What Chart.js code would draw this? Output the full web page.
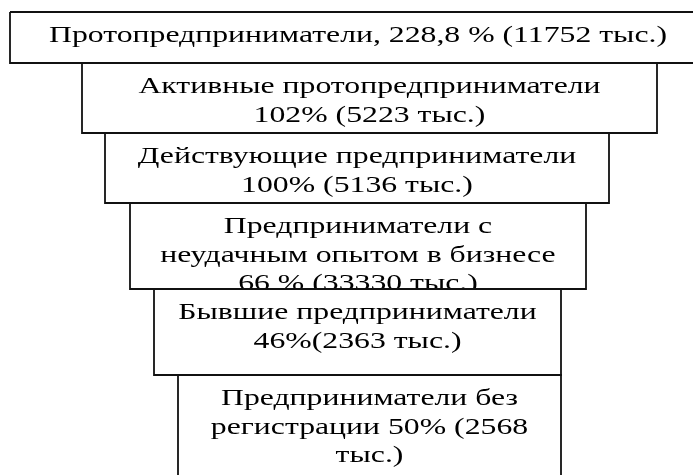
<!DOCTYPE html>
<html>
<head>
<meta charset="utf-8">
<script src="https://cdn.jsdelivr.net/npm/chart.js@4.4.1/dist/chart.umd.min.js"></script>
<style>
  html, body { margin: 0; padding: 0; background: #fff; }
  #wrap { width: 693px; height: 475px; position: relative; }
</style>
</head>
<body>
<div id="wrap"><canvas id="funnel"></canvas></div>
<script>
// stages of the funnel, top to bottom
const categories = [
  "Протопредприниматели",
  "Активные протопредприниматели",
  "Действующие предприниматели",
  "Предприниматели с неудачным опытом в бизнесе",
  "Бывшие предприниматели",
  "Предприниматели без регистрации",
];
// text as it is broken into lines in the boxes
const labelLines = [
  ["Протопредприниматели, 228,8 % (11752 тыс.)"],
  ["Активные протопредприниматели", "102% (5223 тыс.)"],
  ["Действующие предприниматели", "100% (5136 тыс.)"],
  ["Предприниматели с", "неудачным опытом в бизнесе", "66 % (33330 тыс.)"],
  ["Бывшие предприниматели", "46%(2363 тыс.)"],
  ["Предприниматели без", "регистрации 50% (2568", "тыс.)"],
];
// box extents in axis units
const boxStart = [10, 82, 105, 130, 154, 178];
const boxEnd = [706, 657, 609, 586, 561, 561];
const boxTop = [12, 63, 133, 203, 289, 375];
const boxBottom = [63, 133, 203, 289, 375, 500];

const textFont = '23px "Liberation Serif", "Times New Roman", serif';
const textStretch = 1.38;
const lineStep = 28.5;
const firstLine = 30;

const datasets = categories.map((name, i) => ({
  label: name,
  data: [
    { x: boxStart[i], y: boxTop[i] },
    { x: boxEnd[i], y: boxTop[i] },
    { x: boxEnd[i], y: boxBottom[i] },
    { x: boxStart[i], y: boxBottom[i] },
    { x: boxStart[i], y: boxTop[i] },
  ],
  showLine: true,
  borderColor: "#111",
  borderWidth: 1.8,
  backgroundColor: "#fff",
  pointRadius: 0,
  tension: 0,
  clip: false,
}));

const boxText = {
  id: "boxText",
  afterDatasetsDraw(chart) {
    const { ctx, scales: { x, y } } = chart;
    labelLines.forEach((lines, i) => {
      const l = x.getPixelForValue(boxStart[i]);
      const r = x.getPixelForValue(boxEnd[i]);
      const t = y.getPixelForValue(boxTop[i]);
      const b = y.getPixelForValue(boxBottom[i]);
      ctx.save();
      ctx.beginPath();
      ctx.rect(l + 1, t + 1, r - l - 2, b - t - 2);
      ctx.clip();
      ctx.font = textFont;
      ctx.fillStyle = "#000";
      ctx.textAlign = "center";
      ctx.textBaseline = "alphabetic";
      const cx = (l + r) / 2;
      lines.forEach((line, k) => {
        ctx.save();
        ctx.translate(cx, t + firstLine + k * lineStep);
        ctx.scale(textStretch, 1);
        ctx.fillText(line, 0, 0);
        ctx.restore();
      });
      ctx.restore();
    });
  },
};

new Chart(document.getElementById("funnel"), {
  type: "scatter",
  data: { datasets },
  options: {
    responsive: true,
    maintainAspectRatio: false,
    animation: false,
    layout: { padding: 0 },
    plugins: { legend: { display: false }, tooltip: { enabled: false } },
    scales: {
      x: { type: "linear", min: 0, max: 693, display: false },
      y: { type: "linear", min: 0, max: 475, reverse: true, display: false },
    },
  },
  plugins: [boxText],
});
</script>
</body>
</html>
